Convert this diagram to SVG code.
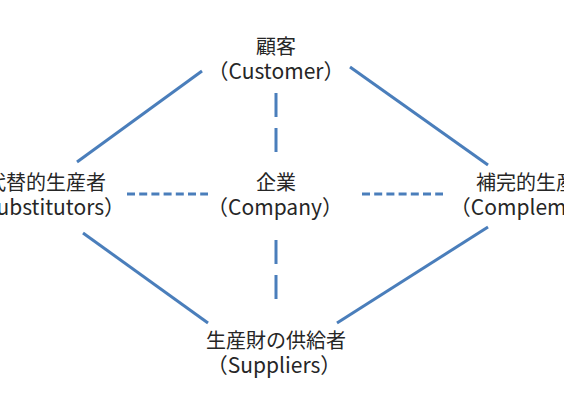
<svg xmlns="http://www.w3.org/2000/svg" width="564" height="400" viewBox="0 0 564 400">
<style>
.t{font-family:"Noto Sans CJK JP","Noto Sans",sans-serif;font-size:20px;fill:#262626;text-anchor:middle}
.l{font-size:21px}
.s{stroke:#4a7ebb;stroke-width:3;fill:none}
.v{stroke-dasharray:24,11}
.h{stroke-dasharray:8,4.2}
</style>
<rect width="564" height="400" fill="#fff"/>
<g id="connectors">
<line class="s" x1="77" y1="162" x2="202" y2="71"/>
<line class="s" x1="350" y1="67" x2="488" y2="165"/>
<line class="s" x1="83" y1="233" x2="208" y2="323"/>
<line class="s" x1="337" y1="323" x2="488" y2="227"/>
<line class="s v" x1="276" y1="93" x2="276" y2="154"/>
<line class="s v" x1="276" y1="240" x2="276" y2="300"/>
<line class="s h" x1="127" y1="194" x2="208" y2="194"/>
<line class="s h" x1="362" y1="194" x2="443" y2="194"/>
</g>
<g id="customer"><text class="t" x="276" y="54">顧客</text><text class="t l" x="276" y="79">（Customer）</text></g>
<g id="company"><text class="t" x="276" y="190">企業</text><text class="t l" x="275" y="215">（Company）</text></g>
<g id="substitutors"><text class="t" x="46" y="190">代替的生産者</text><text class="t l" x="44" y="215">（Substitutors）</text></g>
<g id="complementors"><text class="t" x="536" y="190">補完的生産者</text><text class="t l" x="550" y="215">（Complementors）</text></g>
<g id="suppliers"><text class="t" x="276" y="348">生産財の供給者</text><text class="t l" x="274" y="373">（Suppliers）</text></g>
</svg>
